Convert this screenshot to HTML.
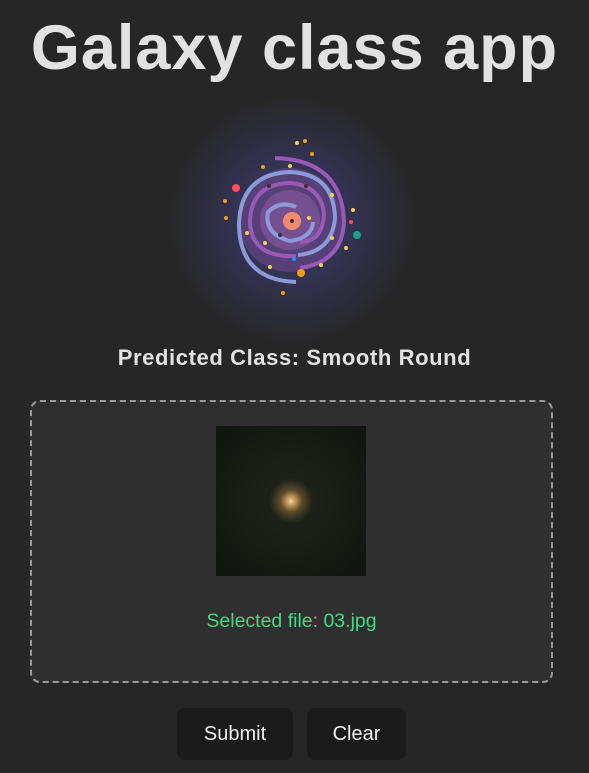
<!DOCTYPE html>
<html><head><meta charset="utf-8">
<style>
html,body{margin:0;padding:0;background:#262626;width:589px;height:773px;overflow:hidden;font-family:"Liberation Sans",sans-serif;}
#title{position:absolute;left:0;width:589px;top:12px;text-align:center;font-size:63px;font-weight:bold;color:#e2e2e2;letter-spacing:1px;margin:0}
#pred{position:absolute;left:0;width:589px;top:345px;text-align:center;font-size:22px;font-weight:bold;color:#e2e2e2;letter-spacing:0.6px}
#drop{position:absolute;left:30px;top:400px;width:519px;height:279px;border:2px dashed #9a9a9a;border-radius:10px;background:#2f2f2f}
#img{position:absolute;left:184px;top:24px;width:150px;height:150px;background:radial-gradient(circle at 50% 50%,#f3d7a0 0,#c69a5a 4px,#5a4a2a 11px,#1c2118 22px,#0f140f 100%)}
#file{position:absolute;left:0;width:519px;top:208px;text-align:center;font-size:19.5px;color:#3ddc84}
.btn{position:absolute;top:708px;height:52px;background:#1b1b1b;border-radius:8px;color:#f0f0f0;font-size:20px;text-align:center;line-height:52px}
</style></head><body>
<h1 id="title">Galaxy class app</h1>
<svg style="position:absolute;left:130px;top:100px" width="330" height="250" viewBox="130 100 330 250">
<defs><radialGradient id="g" cx="292" cy="220" r="125" gradientUnits="userSpaceOnUse"><stop offset="0" stop-color="#3b3b6b"/><stop offset="0.5" stop-color="#323250"/><stop offset="1" stop-color="#262626" stop-opacity="1"/></radialGradient></defs>
<rect x="130" y="100" width="330" height="250" fill="#262626"/>
<circle cx="292" cy="220" r="125" fill="url(#g)"/>
<circle cx="290" cy="220" r="52" fill="#6a4a8a" opacity="0.6"/>
<circle cx="290" cy="220" r="30" fill="#8a5aa0" opacity="0.6"/>
<path d="M275 158 Q342 160 344 222 Q342 262 300 268" stroke="#9b59b6" stroke-width="4" fill="none"/>
<path d="M296 282 Q240 280 239 225 Q240 174 290 172 Q334 174 335 218 Q332 252 298 255" stroke="#8c9ad8" stroke-width="4" fill="none"/>
<path d="M296 256 Q250 258 250 220 Q252 184 290 183 Q322 186 324 215 Q322 242 300 242" stroke="#9b59b6" stroke-width="4" fill="none"/>
<path d="M296 207 Q280 200 268 212 Q264 234 290 241 Q312 238 313 222" stroke="#8c9ad8" stroke-width="4" fill="none"/>
<circle cx="292" cy="221" r="9" fill="#ef8a6a"/><circle cx="292" cy="221" r="2" fill="#333"/>
<circle cx="236" cy="188" r="4" fill="#ff4d5e"/><circle cx="357" cy="235" r="4" fill="#1aa085"/>
<circle cx="301" cy="273" r="4" fill="#f39c12"/><circle cx="351" cy="222" r="2" fill="#ff4d5e"/>
<circle cx="269" cy="186" r="2" fill="#333"/><circle cx="306" cy="186" r="2" fill="#333"/><circle cx="280" cy="235" r="2" fill="#333"/>
<circle cx="294" cy="259" r="2" fill="#1e90ff"/>
<g fill="#f5d04a"><circle cx="297" cy="143" r="2"/><circle cx="290" cy="166" r="2"/><circle cx="332" cy="195" r="2"/><circle cx="353" cy="210" r="2"/><circle cx="346" cy="248" r="2"/><circle cx="321" cy="265" r="2"/><circle cx="270" cy="267" r="2"/><circle cx="247" cy="233" r="2"/><circle cx="265" cy="243" r="2"/><circle cx="309" cy="218" r="2"/><circle cx="332" cy="238" r="2"/></g>
<g fill="#f39c12"><circle cx="305" cy="141" r="2"/><circle cx="312" cy="154" r="2"/><circle cx="263" cy="167" r="2"/><circle cx="225" cy="201" r="2"/><circle cx="226" cy="218" r="2"/><circle cx="283" cy="293" r="2"/></g>
</svg>
<div id="pred">Predicted Class: Smooth Round</div>
<div id="drop">
<div id="img"></div>
<div id="file">Selected file: 03.jpg</div>
</div>
<div class="btn" style="left:177px;width:116px">Submit</div>
<div class="btn" style="left:307px;width:99px">Clear</div>
</body></html>
